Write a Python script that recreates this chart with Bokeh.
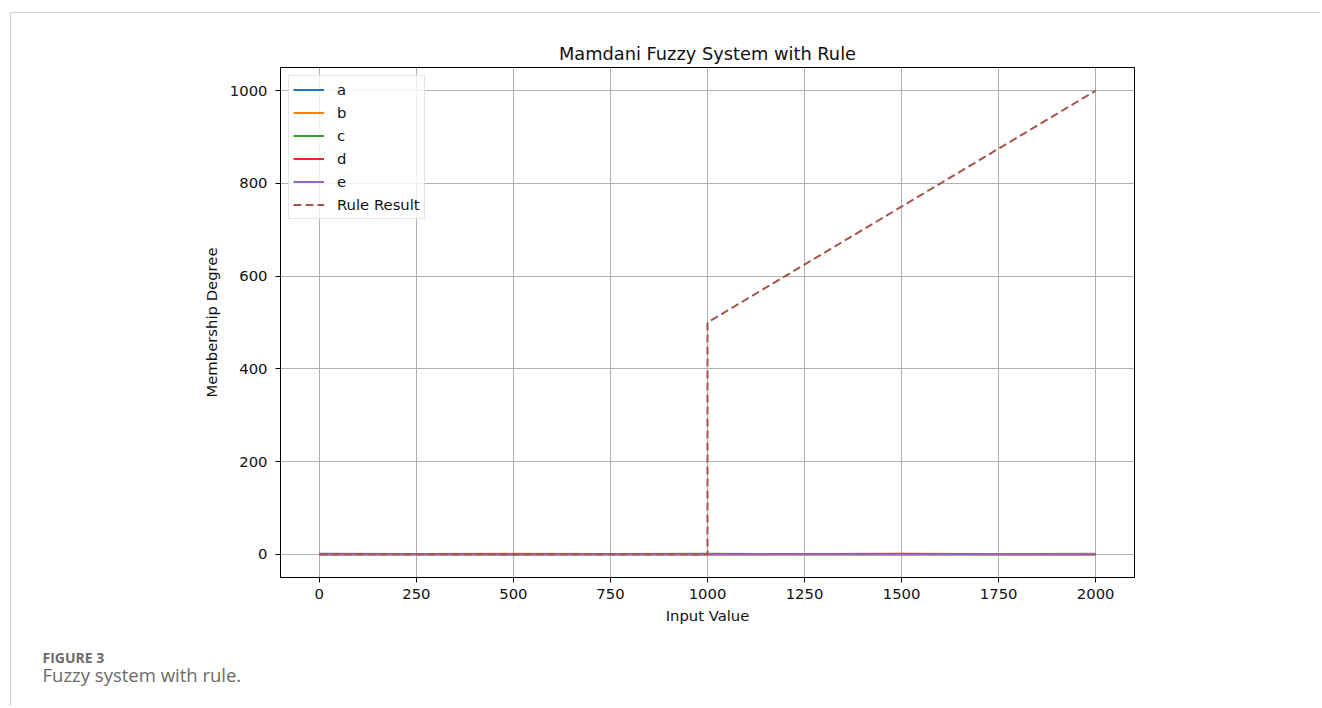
from bokeh.plotting import figure
from bokeh.models import Legend, LegendItem, Title, FixedTicker, Range1d
from bokeh.embed import file_html
from bokeh.resources import INLINE

# ---- data ----
x_universe = [0, 500, 1000, 1500, 2000]
mf_a = [1, 0, 0, 0, 0]
mf_b = [0, 1, 0, 0, 0]
mf_c = [0, 0, 1, 0, 0]
mf_d = [0, 0, 0, 1, 0]
mf_e = [0, 0, 0, 0, 1]
rule_x = [0, 1000, 1000, 2000]
rule_y = [0, 0, 500, 1000]
x_ticks = [0, 250, 500, 750, 1000, 1250, 1500, 1750, 2000]
y_ticks = [0, 200, 400, 600, 800, 1000]

series_names = ["a", "b", "c", "d", "e"]
series_vals = [mf_a, mf_b, mf_c, mf_d, mf_e]
series_colors = ["#1f77b4", "#ff7f0e", "#2ca02c", "#ff2020", "#9467bd"]

FONT = "DejaVu Sans"

X0, X1, Y0, Y1 = -100, 2100, -50, 1050
FRAME_W, FRAME_H = 854, 510

p = figure(width=1310, height=694, output_backend="svg", toolbar_location=None,
           x_range=Range1d(X0, X1), y_range=Range1d(Y0, Y1),
           title="Mamdani Fuzzy System with Rule",
           min_border_left=269, min_border_right=1310 - 269 - FRAME_W,
           min_border_top=54, min_border_bottom=694 - 54 - FRAME_H,
           margin=(12, 0, 0, 10))
p.styles = {"border-top": "1px solid #d2d2d2", "border-left": "1px solid #d2d2d2"}

p.title.align = "center"
p.title.text_font = FONT
p.title.text_font_size = "17.8px"
p.title.text_font_style = "normal"
p.title.text_color = "#111111"
p.title.standoff = 8

p.outline_line_color = "black"
p.outline_line_alpha = 1
p.outline_line_width = 1

for ax in (p.xaxis[0], p.yaxis[0]):
    ax.axis_line_color = "black"
    ax.major_tick_line_color = "black"
    ax.major_tick_out = 5
    ax.major_tick_in = 0
    ax.minor_tick_line_color = None
    ax.major_label_text_font = FONT
    ax.major_label_text_font_size = "14.8px"
    ax.major_label_text_color = "#111111"
    ax.axis_label_text_font = FONT
    ax.axis_label_text_font_size = "14.8px"
    ax.axis_label_text_font_style = "normal"
    ax.axis_label_text_color = "#111111"

p.xaxis.ticker = FixedTicker(ticks=x_ticks)
p.yaxis.ticker = FixedTicker(ticks=y_ticks)
p.xaxis.axis_label = "Input Value"
p.yaxis.axis_label = "Membership Degree"
p.xaxis.major_label_standoff = 6
p.yaxis.major_label_standoff = 8
p.xaxis.axis_label_standoff = 5
p.yaxis.axis_label_standoff = 7

p.grid.grid_line_color = "#b0b0b0"
p.grid.grid_line_width = 1

items = []
for name, vals, col in zip(series_names, series_vals, series_colors):
    r = p.line(x_universe, vals, line_color=col, line_width=2)
    items.append(LegendItem(label=name, renderers=[r]))
rr = p.line(rule_x, rule_y, line_color="#a5554a", line_width=2, line_dash="8 4")
items.append(LegendItem(label="Rule Result", renderers=[rr]))

legend = Legend(items=items, location="top_left", margin=8,
                padding=4, spacing=4, label_height=19, glyph_height=19,
                glyph_width=31, label_standoff=13,
                label_text_font=FONT, label_text_font_size="14.8px",
                label_text_color="#111111",
                border_line_color="#cccccc", border_line_width=1,
                background_fill_color="white", background_fill_alpha=0.8)
p.add_layout(legend)

# figure caption below the chart
p.add_layout(Title(text="FIGURE 3", align="left", offset=-238, standoff=39,
                   text_font="Open Sans", text_font_size="14px",
                   text_font_style="bold", text_color="#6b6b6b"), "below")
p.add_layout(Title(text="Fuzzy system with rule.", align="left", vertical_align="top",
                   offset=-238, standoff=-50,
                   text_font="Open Sans", text_font_size="18.5px",
                   text_font_style="normal", text_color="#6b6b6b"), "below")

open("out.html", "w").write(file_html(p, INLINE))
